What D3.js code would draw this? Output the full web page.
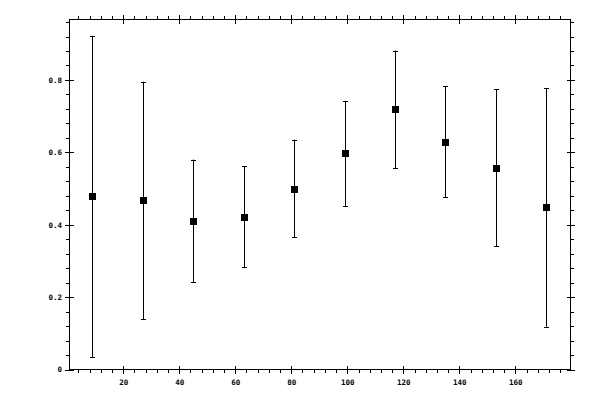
<!DOCTYPE html>
<html>
<head>
<meta charset="utf-8">
<title>Error bars</title>
<script src="https://d3js.org/d3.v7.min.js"></script>
<style>
  body { margin: 0; background: #fff; }
  text { font-family: "DejaVu Sans Mono", monospace; font-size: 7.5px; font-weight: bold; fill: #000; }
</style>
</head>
<body>
<svg width="600" height="400"></svg>
<script>
// bin centres, means and half-widths of the error bars
const xs = [9, 27, 45, 63, 81, 99, 117, 135, 153, 171];
const means = [0.478, 0.467, 0.411, 0.422, 0.500, 0.597, 0.719, 0.629, 0.558, 0.448];
const errs = [0.443, 0.328, 0.169, 0.139, 0.135, 0.145, 0.162, 0.153, 0.217, 0.330];

const xTicks = [20, 40, 60, 80, 100, 120, 140, 160];
const yTicks = [0, 0.2, 0.4, 0.6, 0.8];
const xMinor = d3.range(4, 180, 4).filter(d => d % 20 !== 0);
const yMinor = d3.range(1, 25).map(i => i * 0.04).filter((d, i) => (i + 1) % 5 !== 0);

const pLeft = 69.5, pRight = 570.5, pTop = 19.5, pBottom = 369.5;

const svg = d3.select('svg');

const x = d3.scaleLinear().domain([0.8, 179.7]).range([pLeft, pRight]);
const y = d3.scaleLinear().domain([0, 0.967]).range([pBottom, pTop]);

const yFmt = d => d === 0 ? '0' : d3.format('.1f')(d);

// frame
svg.append('rect')
    .attr('x', pLeft).attr('y', pTop)
    .attr('width', pRight - pLeft).attr('height', pBottom - pTop)
    .attr('fill', 'none').attr('stroke', '#000');

function ticks(axis, tr, vals, size, fmt, pad) {
    const g = svg.append('g')
        .attr('transform', tr)
        .call(axis.tickValues(vals).tickSize(size).tickSizeOuter(0).tickPadding(pad || 3)
            .tickFormat(fmt || ''));
    g.select('.domain').remove();
    g.selectAll('line').attr('stroke', '#000').attr('shape-rendering', 'crispEdges');
    g.attr('font-size', null).attr('font-family', null);
    return g;
}

// bottom
ticks(d3.axisBottom(x), `translate(0,${pBottom})`, xTicks, 4.5, d3.format('d'), 5.5);
ticks(d3.axisBottom(x), `translate(0,${pBottom})`, xTicks, -4);
ticks(d3.axisBottom(x), `translate(0,${pBottom})`, xMinor, 3.5);
// top
ticks(d3.axisTop(x), `translate(0,${pTop})`, xTicks, 4.5);
ticks(d3.axisTop(x), `translate(0,${pTop})`, xTicks, -4);
ticks(d3.axisTop(x), `translate(0,${pTop})`, xMinor, 3.5);
// left
ticks(d3.axisLeft(y), `translate(${pLeft},0)`, yTicks, 4.5, yFmt, 3);
ticks(d3.axisLeft(y), `translate(${pLeft},0)`, yTicks, -4);
ticks(d3.axisLeft(y), `translate(${pLeft},0)`, yMinor, 3.5);
// right
ticks(d3.axisRight(y), `translate(${pRight},0)`, yTicks, 4.5);
ticks(d3.axisRight(y), `translate(${pRight},0)`, yTicks, -4);
ticks(d3.axisRight(y), `translate(${pRight},0)`, yMinor, 3.5);

const pts = xs.map((d, i) => ({x: d, m: means[i], e: errs[i]}));

const bars = svg.append('g').attr('stroke', '#000').attr('stroke-width', 1);

bars.selectAll('.v').data(pts).enter().append('line')
    .attr('x1', d => Math.round(x(d.x)) + 0.5).attr('x2', d => Math.round(x(d.x)) + 0.5)
    .attr('y1', d => y(d.m + d.e)).attr('y2', d => y(d.m - d.e));

bars.selectAll('.t').data(pts).enter().append('line')
    .attr('x1', d => Math.round(x(d.x)) - 2).attr('x2', d => Math.round(x(d.x)) + 3)
    .attr('y1', d => Math.round(y(d.m + d.e)) + 0.5).attr('y2', d => Math.round(y(d.m + d.e)) + 0.5);

bars.selectAll('.b').data(pts).enter().append('line')
    .attr('x1', d => Math.round(x(d.x)) - 2).attr('x2', d => Math.round(x(d.x)) + 3)
    .attr('y1', d => Math.round(y(d.m - d.e)) + 0.5).attr('y2', d => Math.round(y(d.m - d.e)) + 0.5);

svg.append('g').selectAll('rect').data(pts).enter().append('rect')
    .attr('x', d => Math.round(x(d.x)) - 3)
    .attr('y', d => Math.round(y(d.m)) - 3)
    .attr('width', 7).attr('height', 7)
    .attr('fill', '#000');
</script>
</body>
</html>
